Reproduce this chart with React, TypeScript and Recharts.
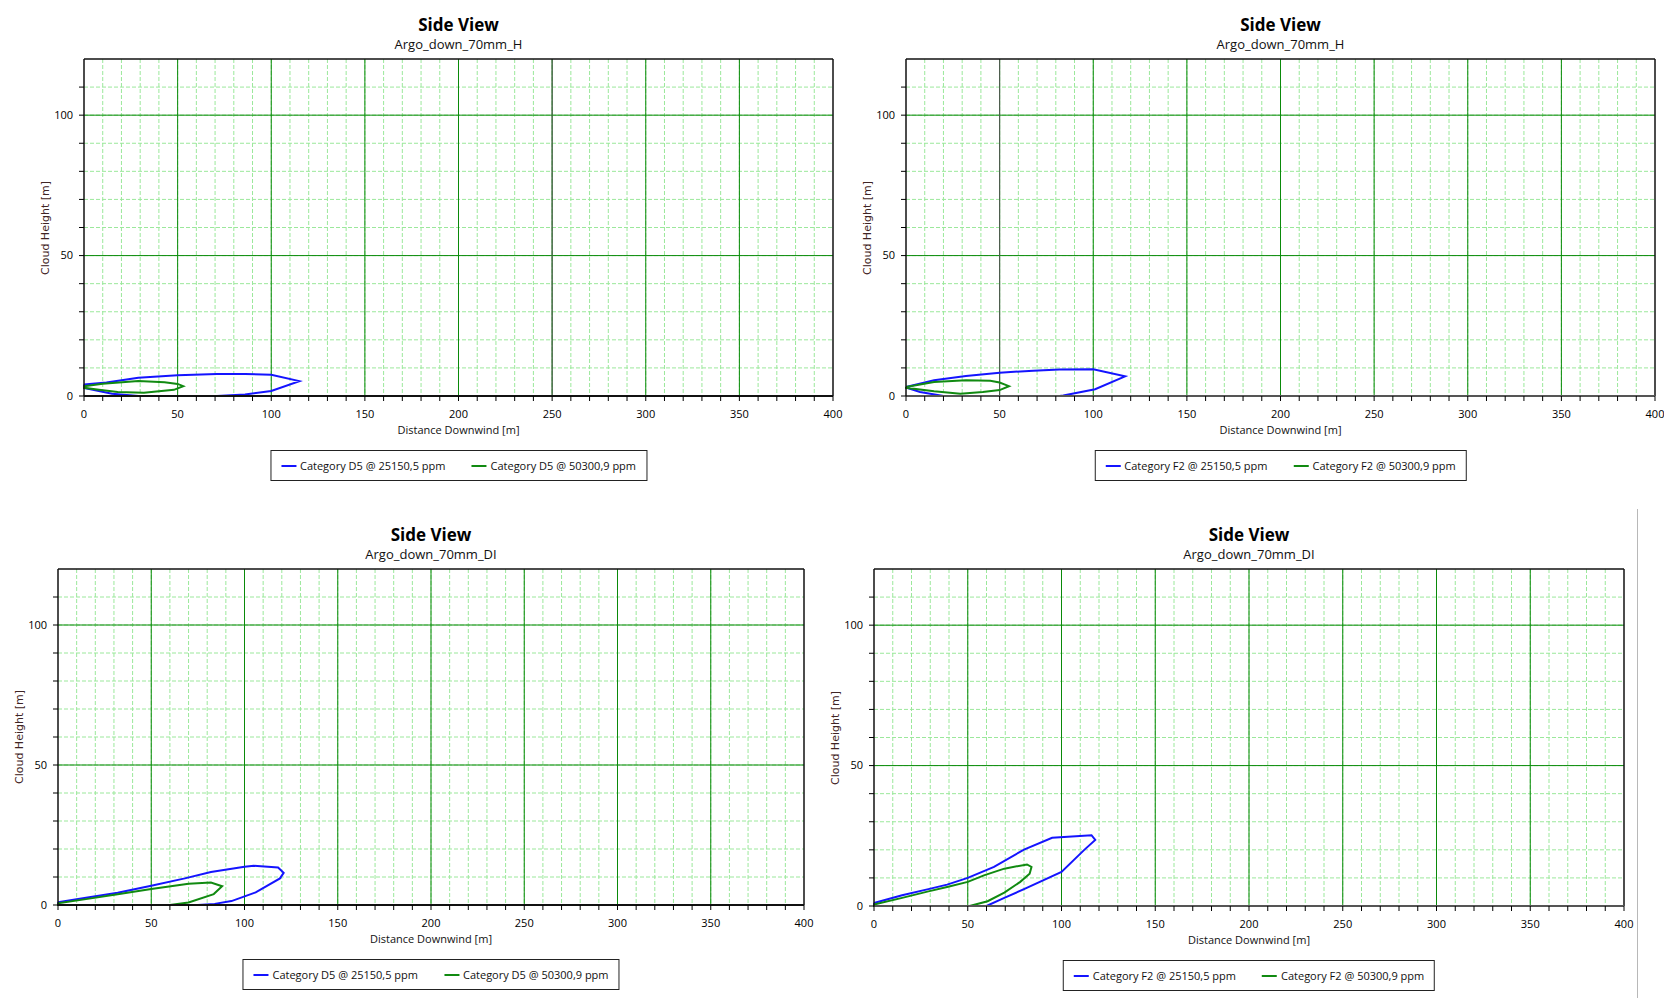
import React from "react";
import { LineChart, Line, XAxis, YAxis, CartesianGrid, ReferenceLine } from "recharts";

type Pt = { x: number; y: number };

// cloud outlines as [distance downwind, height] in metres, traced round the contour
const hD5Outer: [number, number][] = [
  [0, 4.1], [12, 4.8], [29, 6.5], [50, 7.4], [71, 7.8], [86, 7.8], [100, 7.6], [115, 5.3],
  [100, 1.8], [86, 0.5], [71, 0], [29, 0], [15, 0.8], [0, 2.9], [0, 4.1],
];
const hD5Inner: [number, number][] = [
  [0, 3.5], [10, 4.4], [29, 5.3], [43, 4.9], [50, 4.3], [53, 3.5], [48, 2.2], [32, 1.2],
  [18, 1.4], [8, 2.2], [0, 2.9], [0, 3.5],
];
const hF2Outer: [number, number][] = [
  [0, 3.2], [15, 5.6], [32, 7.1], [50, 8.3], [68, 9.0], [82, 9.4], [100, 9.5], [117, 7.0],
  [101, 2.4], [84, 0.2], [82, 0], [20, 0], [7.5, 1.4], [0, 3.0], [0, 3.2],
];
const hF2Inner: [number, number][] = [
  [0, 3.2], [15, 5.0], [32, 5.6], [45, 5.4], [50, 4.8], [55, 3.5], [50, 2.1], [41, 1.4],
  [29, 0.8], [15, 1.7], [0, 2.9], [0, 3.2],
];
const diD5Outer: [number, number][] = [
  [0, 1], [15, 2.6], [32, 4.4], [50, 6.9], [68, 9.5], [82, 11.8], [100, 13.7], [105, 14],
  [118, 13.4], [121, 11.5], [119, 9.5], [106, 4.5], [93, 1.4], [84, 0.4], [75, 0], [0, 0], [0, 1],
];
const diD5Inner: [number, number][] = [
  [0, 0.6], [15, 2.1], [32, 3.8], [50, 5.7], [70, 7.6], [82, 8.0], [88, 6.7], [83.5, 3.9],
  [70, 0.9], [60, 0], [0, 0], [0, 0.6],
];
const diF2Outer: [number, number][] = [
  [0, 1.1], [15, 3.8], [29, 6.0], [39, 7.6], [50, 10], [64, 13.9], [80, 20.1], [95, 24.3],
  [116, 25.2], [118, 23.5], [112, 19.9], [100, 12.1], [80, 6.0], [69.5, 2.9], [60, 0], [0, 0], [0, 1.1],
];
const diF2Inner: [number, number][] = [
  [0, 0.5], [15, 2.9], [29, 5.2], [39, 6.8], [50, 8.6], [59, 11], [69.5, 13.3], [81.6, 14.8],
  [84, 13.9], [83, 11.5], [78, 8.6], [69.5, 4.8], [60.6, 1.7], [51, 0], [0, 0], [0, 0.5],
];

const concentrations = ["25150,5 ppm", "50300,9 ppm"];

const xTicks = [
  0, 10, 20, 30, 40, 50, 60, 70, 80, 90, 100, 110, 120, 130, 140, 150, 160, 170, 180, 190, 200,
  210, 220, 230, 240, 250, 260, 270, 280, 290, 300, 310, 320, 330, 340, 350, 360, 370, 380, 390, 400,
];
const xMajor = [50, 100, 150, 200, 250, 300, 350];
const yTicks = [0, 10, 20, 30, 40, 50, 60, 70, 80, 90, 100, 110];
const yMajor = [50, 100];

const BLUE = "#1414ff";
const GREEN = "#118a11";
const MAJOR = "#0a8a0a";
const MINOR = "#9be89b";
const FONT = "'Open Sans', 'Noto Sans', sans-serif";

const toPts = (rows: [number, number][]): Pt[] => rows.map(([x, y]) => ({ x, y }));
const label50 = (v: number) => (v % 50 === 0 ? String(v) : "");

const YW = 44;
const XH = 32;
const MT = 6;
const MR = 16;

interface PanelProps {
  left: number;
  top: number;
  plotW: number;
  plotH: number;
  subtitle: string;
  category: string;
  outer: [number, number][];
  inner: [number, number][];
  markX?: number;
  axisColor?: string;
}

function SideView({ left, top, plotW, plotH, subtitle, category, outer, inner, markX, axisColor = "#111" }: PanelProps) {
  const cx = left + plotW / 2;
  const bottom = top + plotH;
  const names = concentrations.map((c) => `Category ${category} @ ${c}`);
  return (
    <>
      <div style={{ position: "absolute", left: cx - 200, width: 400, top: top - 45, textAlign: "center", fontWeight: 700, fontSize: 17, lineHeight: "22px", color: "#000" }}>
        Side View
      </div>
      <div style={{ position: "absolute", left: cx - 200, width: 400, top: top - 24, textAlign: "center", fontSize: 13, lineHeight: "18px", color: "#111" }}>
        {subtitle}
      </div>
      <div
        style={{
          position: "absolute", left: left - 38 - 100, top: top + plotH / 2 - 8, width: 200, height: 16,
          textAlign: "center", transform: "rotate(-90deg)", fontFamily: "'DejaVu Sans', sans-serif",
          fontSize: 11, lineHeight: "16px", color: "#3f2424",
        }}
      >
        Cloud Height [m]
      </div>
      <div style={{ position: "absolute", left: cx - 150, width: 300, top: bottom + 26, textAlign: "center", fontSize: 11, lineHeight: "16px", color: "#111" }}>
        Distance Downwind [m]
      </div>
      <div style={{ position: "absolute", left: left - YW, top: top - MT }}>
        <LineChart width={plotW + YW + MR} height={plotH + MT + XH} margin={{ top: MT, right: MR, left: 0, bottom: 0 }}>
          <CartesianGrid horizontalValues={yTicks.slice(1)} verticalValues={xTicks.slice(1, -1)} stroke={MINOR} strokeDasharray="4 2" />
          <CartesianGrid horizontalValues={yMajor} verticalValues={xMajor} stroke={MAJOR} />
          <XAxis
            type="number" dataKey="x" domain={[0, 400]} ticks={xTicks} interval={0} height={XH}
            tickFormatter={label50} tickSize={5} tickMargin={9}
            tick={{ fill: "#000", fontSize: 11, fontFamily: FONT }}
            tickLine={{ stroke: "#000" }} axisLine={{ stroke: axisColor, strokeWidth: 2 }}
          />
          <YAxis
            type="number" dataKey="y" domain={[0, 120]} ticks={yTicks} interval={0} width={YW}
            tickFormatter={label50} tickSize={5} tickMargin={6}
            tick={{ fill: "#000", fontSize: 11, fontFamily: FONT }}
            tickLine={{ stroke: "#000" }} axisLine={{ stroke: "#111", strokeWidth: 1.5 }}
          />
          {markX !== undefined && <ReferenceLine x={markX} stroke="#555" strokeWidth={1} />}
          <ReferenceLine y={120} stroke="#111" strokeWidth={1.5} />
          <ReferenceLine x={400} stroke="#111" strokeWidth={1.5} />
          <Line data={toPts(outer)} dataKey="y" name={names[0]} stroke={BLUE} strokeWidth={2} dot={false} isAnimationActive={false} />
          <Line data={toPts(inner)} dataKey="y" name={names[1]} stroke={GREEN} strokeWidth={2} dot={false} isAnimationActive={false} />
        </LineChart>
      </div>
      <div
        style={{
          position: "absolute", left: cx, top: bottom + 54, height: 29, transform: "translateX(-50%)",
          border: "1px solid #222", background: "#fff", display: "flex", alignItems: "center",
          padding: "0 10px", gap: 26, fontSize: 11, color: "#111", whiteSpace: "nowrap",
        }}
      >
        {names.map((n, i) => (
          <div key={n} style={{ display: "flex", alignItems: "center" }}>
            <span style={{ display: "inline-block", width: 15, height: 2, background: i === 0 ? BLUE : GREEN, marginRight: 4 }} />
            <span>{n}</span>
          </div>
        ))}
      </div>
    </>
  );
}

export default function App() {
  return (
    <div style={{ position: "absolute", left: 0, top: 0, width: 1664, height: 998, background: "#fff", fontFamily: FONT, overflow: "hidden" }}>
      <SideView left={84} top={59} plotW={749} plotH={337} subtitle="Argo_down_70mm_H" category="D5" outer={hD5Outer} inner={hD5Inner} markX={250} />
      <SideView left={906} top={59} plotW={749} plotH={337} subtitle="Argo_down_70mm_H" category="F2" outer={hF2Outer} inner={hF2Inner} markX={50} axisColor="#555" />
      <SideView left={58} top={569} plotW={746} plotH={336} subtitle="Argo_down_70mm_DI" category="D5" outer={diD5Outer} inner={diD5Inner} />
      <SideView left={874} top={569} plotW={750} plotH={337} subtitle="Argo_down_70mm_DI" category="F2" outer={diF2Outer} inner={diF2Inner} axisColor="#555" />
      <div style={{ position: "absolute", left: 1637, top: 509, width: 1, height: 489, background: "#b8b8b8" }} />
    </div>
  );
}
